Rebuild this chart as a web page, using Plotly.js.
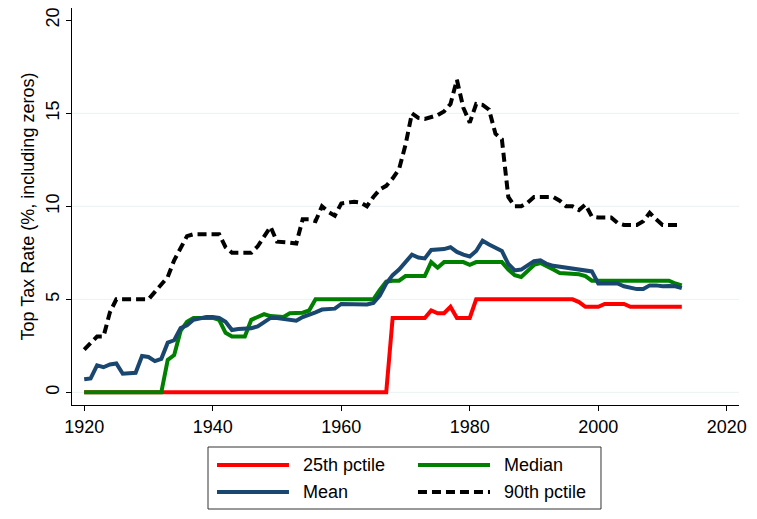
<!DOCTYPE html>
<html>
<head>
<meta charset="utf-8">
<script src="https://cdn.plot.ly/plotly-3.0.1.min.js"></script>
<style>
  html, body { margin: 0; padding: 0; background: #fff; }
  #plot { width: 757px; height: 519px; }
</style>
</head>
<body>
<div id="plot"></div>
<script>
// years 1920 .. 2013
var years = [];
for (var yr = 1920; yr <= 2013; yr++) years.push(yr);

var p25 = [
  0, 0, 0, 0, 0, 0, 0, 0, 0, 0,
  0, 0, 0, 0, 0, 0, 0, 0, 0, 0,
  0, 0, 0, 0, 0, 0, 0, 0, 0, 0,
  0, 0, 0, 0, 0, 0, 0, 0, 0, 0,
  0, 0, 0, 0, 0, 0, 0, 0, 4.0, 4.0,
  4.0, 4.0, 4.0, 4.0, 4.4, 4.25, 4.25, 4.6, 4.0, 4.0,
  4.0, 5.0, 5.0, 5.0, 5.0, 5.0, 5.0, 5.0, 5.0, 5.0,
  5.0, 5.0, 5.0, 5.0, 5.0, 5.0, 5.0, 4.85, 4.6, 4.6,
  4.6, 4.75, 4.75, 4.75, 4.75, 4.6, 4.6, 4.6, 4.6, 4.6,
  4.6, 4.6, 4.6, 4.6
];

var median = [
  0, 0, 0, 0, 0, 0, 0, 0, 0, 0,
  0, 0, 0, 1.75, 2.0, 3.3, 3.8, 4.0, 4.0, 4.0,
  4.0, 3.9, 3.2, 3.0, 3.0, 3.0, 3.9, 4.05, 4.2, 4.1,
  4.05, 4.05, 4.25, 4.25, 4.28, 4.4, 5.0, 5.0, 5.0, 5.0,
  5.0, 5.0, 5.0, 5.0, 5.0, 5.0, 5.5, 5.95, 6.0, 6.0,
  6.25, 6.25, 6.25, 6.25, 7.0, 6.7, 7.0, 7.0, 7.0, 7.0,
  6.85, 7.0, 7.0, 7.0, 7.0, 7.0, 6.6, 6.3, 6.2, 6.5,
  6.85, 6.95, 6.75, 6.6, 6.42, 6.4, 6.38, 6.35, 6.25, 6.0,
  6.0, 6.0, 6.0, 6.0, 6.0, 6.0, 6.0, 6.0, 6.0, 6.0,
  6.0, 6.0, 5.85, 5.75
];

var mean = [
  0.7, 0.75, 1.45, 1.35, 1.5, 1.55, 1.0, 1.0, 1.05, 1.95,
  1.9, 1.68, 1.8, 2.67, 2.8, 3.45, 3.6, 3.9, 4.0, 4.05,
  4.05, 4.0, 3.8, 3.35, 3.4, 3.4, 3.45, 3.55, 3.75, 4.0,
  4.0, 3.95, 3.9, 3.85, 4.05, 4.15, 4.3, 4.45, 4.5, 4.5,
  4.75, 4.75, 4.75, 4.7, 4.72, 4.8, 5.2, 5.85, 6.3, 6.6,
  7.0, 7.4, 7.25, 7.2, 7.65, 7.65, 7.7, 7.8, 7.55, 7.4,
  7.3, 7.6, 8.15, 7.95, 7.75, 7.6, 6.9, 6.55, 6.6, 6.8,
  7.05, 7.1, 6.9, 6.8, 6.75, 6.7, 6.65, 6.6, 6.55, 6.5,
  5.85, 5.85, 5.9, 5.85, 5.7, 5.6, 5.55, 5.55, 5.75, 5.75,
  5.7, 5.72, 5.7, 5.6
];

var p90 = [
  2.3, 2.65, 3.0, 3.0, 4.3, 5.0, 5.0, 5.0, 5.0, 5.0,
  5.0, 5.4, 5.8, 6.2, 7.1, 7.8, 8.4, 8.5, 8.5, 8.5,
  8.5, 8.5, 7.8, 7.5, 7.5, 7.5, 7.5, 7.85, 8.4, 8.9,
  8.1, 8.1, 8.05, 8.0, 9.3, 9.3, 9.2, 10.0, 9.7, 9.5,
  10.15, 10.2, 10.25, 10.2, 10.0, 10.5, 10.9, 11.1, 11.5, 12.0,
  13.3, 15.0, 14.75, 14.7, 14.8, 14.9, 15.1, 15.5, 16.8, 15.3,
  14.5, 15.5, 15.45, 15.2, 13.9, 13.6, 10.5, 10.0, 10.0, 10.2,
  10.5, 10.5, 10.5, 10.5, 10.3, 10.0, 10.0, 9.8, 10.1, 9.45,
  9.4, 9.4, 9.4, 9.1, 9.0, 9.0, 9.0, 9.2, 9.65, 9.3,
  9.0, 9.0, 9.0, 9.0
];

var seriesNames = ['25th pctile', 'Median', 'Mean', '90th pctile'];
var seriesData = [p25, median, mean, p90];
var seriesColors = ['#ff0000', '#008000', '#1a476f', '#000000'];
var seriesDash = ['solid', 'solid', 'solid', '9px,5px'];

var xTicks = [1920, 1940, 1960, 1980, 2000, 2020];
var yTicks = [0, 5, 10, 15, 20];
var gridVals = [0, 5, 10, 15];

var FONT = '"Liberation Sans", Arial, Helvetica, sans-serif';

var traces = seriesData.map(function (vals, i) {
  return {
    x: years, y: vals, type: 'scatter', mode: 'lines',
    name: seriesNames[i],
    line: { color: seriesColors[i], width: 4, dash: seriesDash[i] },
    hoverinfo: 'skip'
  };
});

var shapes = gridVals.map(function (v) {
  return {
    type: 'line', xref: 'paper', yref: 'y', x0: 0, x1: 1, y0: v, y1: v,
    line: { color: '#eaf2f3', width: 1 }, layer: 'below'
  };
});

// legend box drawn by hand (Stata style, long line samples)
shapes.push({
  type: 'rect', xref: 'paper', yref: 'paper',
  x0: 0.2039, x1: 0.7931, y0: -0.262, y1: -0.1058,
  line: { color: '#333333', width: 1 }, fillcolor: 'rgba(0,0,0,0)'
});
var legRows = [-0.1511, -0.2191];
var legLineX = [[0.2174, 0.3253], [0.5187, 0.6267]];
var legTextX = [0.3433, 0.6447];
var annotations = [];
seriesNames.forEach(function (nm, i) {
  var r = Math.floor(i / 2), c = i % 2;
  shapes.push({
    type: 'line', xref: 'paper', yref: 'paper',
    x0: legLineX[c][0], x1: legLineX[c][1], y0: legRows[r], y1: legRows[r],
    line: { color: seriesColors[i], width: 4, dash: seriesDash[i] }
  });
  annotations.push({
    text: nm, xref: 'paper', yref: 'paper', x: legTextX[c], y: legRows[r],
    xanchor: 'left', yanchor: 'middle', showarrow: false,
    font: { family: FONT, size: 18, color: '#000' }
  });
});

var layout = {
  width: 757, height: 519,
  margin: { l: 72, r: 18, t: 8, b: 114 },
  paper_bgcolor: '#fff', plot_bgcolor: '#fff',
  showlegend: false,
  font: { family: FONT, size: 18, color: '#000' },
  xaxis: {
    range: [1918.1, 2021.9], tickvals: xTicks, ticks: 'outside', ticklen: 5,
    tickcolor: '#000', showline: true, linecolor: '#000', linewidth: 1,
    showgrid: false, zeroline: false,
    tickfont: { family: FONT, size: 18, color: '#000' }
  },
  yaxis: {
    range: [-0.68, 20.66], tickvals: yTicks, ticks: 'outside', ticklen: 5,
    tickcolor: '#000', showline: true, linecolor: '#000', linewidth: 1,
    showgrid: false, zeroline: false, tickangle: -90,
    tickfont: { family: FONT, size: 18, color: '#000' },
    title: { text: 'Top Tax Rate (%, including zeros)', standoff: 3,
             font: { family: FONT, size: 18, color: '#000' } }
  },
  shapes: shapes,
  annotations: annotations
};

Plotly.newPlot('plot', traces, layout, { staticPlot: true, displayModeBar: false });
</script>
</body>
</html>
